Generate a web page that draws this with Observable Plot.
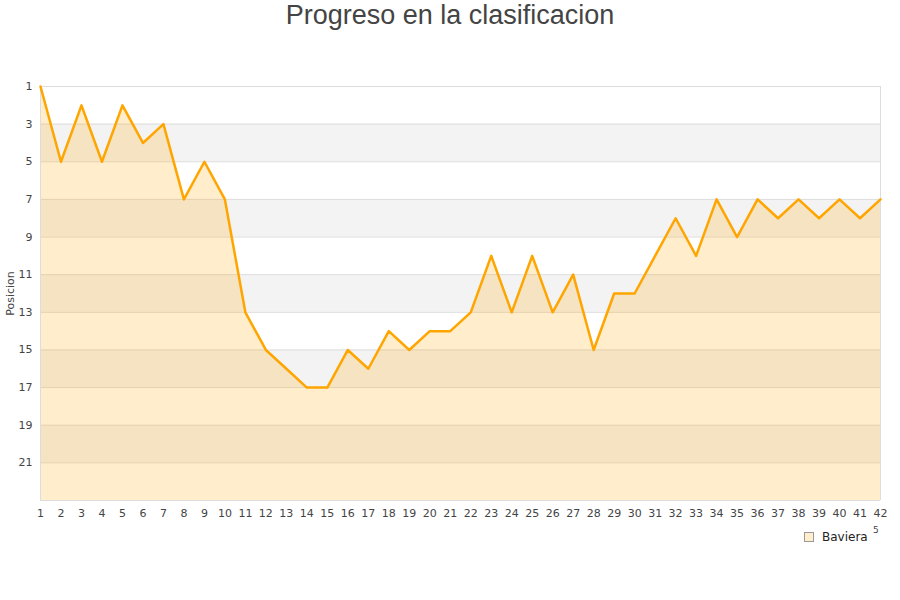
<!DOCTYPE html>
<html>
<head>
<meta charset="utf-8">
<script src="https://cdn.jsdelivr.net/npm/d3@7"></script>
<script src="https://cdn.jsdelivr.net/npm/@observablehq/plot@0.6"></script>
<style>
  body { margin: 0; background: #fff; width: 900px; height: 600px; position: relative; overflow: hidden; }
  #titulo { height: 36px; line-height: 30px; text-align: center; font-family: "Liberation Sans", Arial, sans-serif;
            font-size: 27px; color: #444; }
  #grafico svg { display: block; }
  #leyenda { position: absolute; left: 804px; top: 530px; font-family: "DejaVu Sans", sans-serif; font-size: 12px; color: #222; }
  #leyenda .caja { display: inline-block; width: 8px; height: 8px; background: #ffedcc; border: 1px solid #999;
                   vertical-align: middle; margin-right: 8px; position: relative; top: -1px; }
  #leyenda .extra { position: absolute; left: 69px; top: -5px; font-size: 9px; color: #444; }
</style>
</head>
<body>
<div id="titulo">Progreso en la clasificacion</div>
<div id="grafico"></div>
<div id="leyenda"><span class="caja"></span>Baviera<span class="extra">5</span></div>
<script>
// jornadas y posición de Baviera en cada una
const jornadas = d3.range(1, 43);
const posiciones = [1, 5, 2, 5, 2, 4, 3, 7, 5, 7, 13, 15, 16, 17, 17, 15, 16, 14, 15, 14, 14,
                    13, 10, 13, 10, 13, 11, 15, 12, 12, 10, 8, 10, 7, 9, 7, 8, 7, 8, 7, 8, 7];
const ticksY = [1, 3, 5, 7, 9, 11, 13, 15, 17, 19, 21];
const bandas = [3, 7, 11, 15, 19]; // inicio de cada franja gris (2 puestos)
const ultimoPuesto = 23;

const datos = jornadas.map((j, i) => ({ jornada: j, pos: posiciones[i] }));

const grafico = Plot.plot({
  width: 900,
  height: 490,
  marginLeft: 40,
  marginRight: 20,
  marginTop: 50,
  marginBottom: 26,
  style: { fontFamily: "'DejaVu Sans', sans-serif", fontSize: "11px", color: "#444", background: "#fff" },
  x: { domain: [1, 42], ticks: jornadas, tickFormat: (d) => d, tickSize: 0, tickPadding: 9, label: null },
  y: { domain: [1, ultimoPuesto], reverse: true, ticks: ticksY, tickSize: 0, tickPadding: 8,
       label: "Posicion", labelAnchor: "center", labelArrow: "none", labelOffset: 34 },
  marks: [
    Plot.rect(bandas, { x1: 1, x2: 42, y1: (d) => d, y2: (d) => d + 2, fill: "#f3f3f3" }),
    Plot.ruleY(ticksY, { stroke: "#ddd", strokeWidth: 1 }),
    Plot.areaY(datos, { x: "jornada", y1: ultimoPuesto, y2: "pos", fill: "#FFA500", fillOpacity: 0.2 }),
    Plot.ruleX([1, 42], { stroke: "#ddd", strokeWidth: 1 }),
    Plot.ruleY([ultimoPuesto], { stroke: "#ddd", strokeWidth: 1 }),
    Plot.lineY(datos, { x: "jornada", y: "pos", stroke: "#FFA500", strokeWidth: 2.5 }),
  ],
});
document.getElementById("grafico").appendChild(grafico);
</script>
</body>
</html>
